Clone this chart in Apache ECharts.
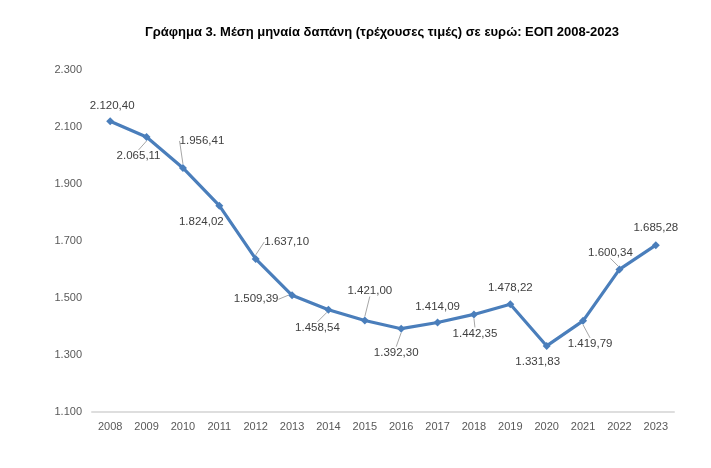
<!DOCTYPE html>
<html><head><meta charset="utf-8">
<script src="https://cdn.jsdelivr.net/npm/echarts@6/dist/echarts.min.js"></script>
<style>html,body{margin:0;padding:0;background:#fff}#c{width:711px;height:468px}</style>
</head><body><div id="c"></div>
<script>
var categories = ['2008','2009','2010','2011','2012','2013','2014','2015','2016','2017','2018','2019','2020','2021','2022','2023'];
var values = [2120.40,2065.11,1956.41,1824.02,1637.10,1509.39,1458.54,1421.00,1392.30,1414.09,1442.35,1478.22,1331.83,1419.79,1600.34,1685.28];
var titleText = 'Γράφημα 3. Μέση μηναία δαπάνη (τρέχουσες τιμές) σε ευρώ: ΕΟΠ 2008-2023';
// label offsets from each point (style only)
var labelDx = [2,-8,19,-18,31,-36,-11,5,-5,0,1,0,-9,7,-9,0];
var labelDy = [-15,19,-27,16,-17,4,18,-30,24,-16,19,-16,16,23,-17,-17];
var leader = [false,true,true,false,true,true,true,true,true,false,true,false,false,true,true,false];

function fmt(v){
  var s = v.toFixed(2).split('.');
  var i = s[0].replace(/\B(?=(\d{3})+(?!\d))/g,'.');
  return i + ',' + s[1];
}
function fmtInt(v){ return String(v).replace(/\B(?=(\d{3})+(?!\d))/g,'.'); }

var data = values.map(function(v,i){
  return {value:v, labelLine:{show:leader[i]}};
});

var chart = echarts.init(document.getElementById('c'));
chart.setOption({
  animation:false,
  title:{text:titleText,left:377,textAlign:'center',top:21,textStyle:{fontFamily:'Liberation Sans',fontSize:13,fontWeight:'bold',color:'#000'}},
  grid:{left:92,right:37,top:70,bottom:56},
  xAxis:{type:'category',data:categories,boundaryGap:true,
    axisLine:{lineStyle:{color:'#dedede',width:2}},axisTick:{show:false},
    axisLabel:{color:'#595959',fontFamily:'Liberation Sans',fontSize:11,margin:9}},
  yAxis:{type:'value',min:1100,max:2300,interval:200,
    splitLine:{show:false},axisLine:{show:false},axisTick:{show:false},
    axisLabel:{color:'#595959',fontFamily:'Liberation Sans',fontSize:11,margin:10,formatter:fmtInt}},
  series:[{type:'line',data:data,symbol:'diamond',symbolSize:8,
    itemStyle:{color:'#4a7ebb'},lineStyle:{color:'#4a7ebb',width:3.2},
    label:{show:true,position:'inside',color:'#404040',fontFamily:'Liberation Sans',fontSize:11.5,
      formatter:function(p){return fmt(p.value);}},
    labelLine:{show:false,lineStyle:{color:'#a6a6a6',width:1}},
    labelLayout:function(p){return {dx:labelDx[p.dataIndex],dy:labelDy[p.dataIndex]};}
  }]
});
</script></body></html>
